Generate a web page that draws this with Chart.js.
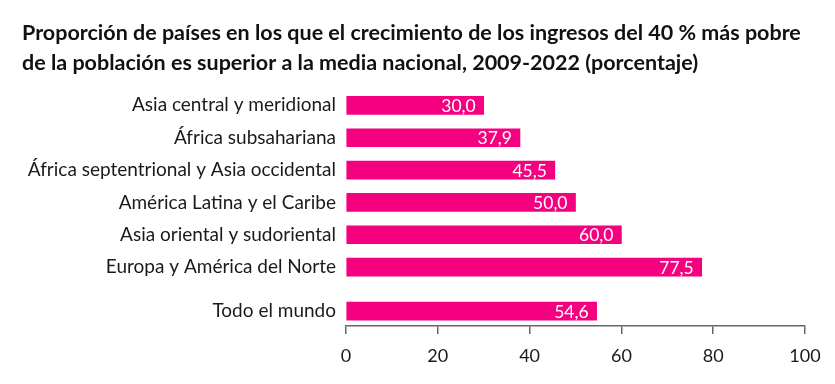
<!DOCTYPE html>
<html><head><meta charset="utf-8">
<script src="https://cdn.jsdelivr.net/npm/chart.js@4/dist/chart.umd.min.js"></script>
<style>html,body{margin:0;padding:0;background:#fff}#wrap{width:835px;height:384px}</style>
</head><body><div id="wrap"><canvas id="c" width="835" height="384"></canvas></div>
<script>
const categories = ["Asia central y meridional","África subsahariana","África septentrional y Asia occidental","América Latina y el Caribe","Asia oriental y sudoriental","Europa y América del Norte","Todo el mundo"];
const values = [30.0, 37.9, 45.5, 50.0, 60.0, 77.5, 54.6];
const rowPositions = [0, 1, 2, 3, 4, 5, 6.36];
const xTicks = [0, 20, 40, 60, 80, 100];
const titleLines = ["Proporción de países en los que el crecimiento de los ingresos del 40 % más pobre","de la población es superior a la media nacional, 2009-2022 (porcentaje)"];
const barColor = "#F5007E";

const valueLabels = {
  id: 'valueLabels',
  afterDatasetsDraw(chart) {
    const ctx = chart.ctx;
    const meta = chart.getDatasetMeta(0);
    ctx.save();
    ctx.fillStyle = '#fff';
    ctx.font = '17.5px Lato';
    ctx.textAlign = 'right';
    ctx.textBaseline = 'middle';
    meta.data.forEach((bar, i) => {
      ctx.fillText(values[i].toFixed(1).replace('.', ','), bar.x - 8, bar.y + 1);
    });
    ctx.restore();
  }
};

new Chart(document.getElementById('c'), {
  type: 'bar',
  data: {
    datasets: [{
      data: values.map((v, i) => ({x: v, y: rowPositions[i]})),
      backgroundColor: barColor,
      barThickness: 18
    }]
  },
  options: {
    indexAxis: 'y',
    responsive: false,
    animation: false,
    layout: {padding: {left: 22, right: 30, top: 0, bottom: 0}},
    plugins: {
      legend: {display: false},
      tooltip: {enabled: false},
      title: {
        display: true,
        text: titleLines,
        align: 'start',
        color: '#111',
        font: {family: 'Lato', size: 21.5, weight: 'bold', lineHeight: 1.4},
        padding: {top: 18, bottom: 11}
      }
    },
    scales: {
      y: {
        type: 'linear',
        reverse: true,
        offset: false,
        min: -0.5,
        max: 6.82,
        afterBuildTicks(s) { s.ticks = rowPositions.map(v => ({value: v})); },
        afterFit(s) { s.width = 324; s.paddingTop = 0; s.paddingBottom = 0; },
        grid: {display: false, drawTicks: false},
        border: {display: false},
        ticks: {
          padding: 10,
          color: '#1a1a1a',
          font: {family: 'Lato', size: 19},
          callback(v, i) { return categories[i]; }
        }
      },
      x: {
        type: 'linear',
        min: 0,
        max: 100,
        afterBuildTicks(s) { s.ticks = xTicks.map(v => ({value: v})); },
        afterFit(s) { s.height = 58; },
        grid: {drawOnChartArea: false, drawTicks: true, tickLength: 8, color: '#666', lineWidth: 1.5},
        border: {display: true, color: '#666', width: 1.5},
        ticks: {
          padding: 11,
          color: '#1a1a1a',
          font: {family: 'Lato', size: 18},
          callback(v) { return String(v); }
        }
      }
    }
  },
  plugins: [valueLabels]
});
</script></body></html>
